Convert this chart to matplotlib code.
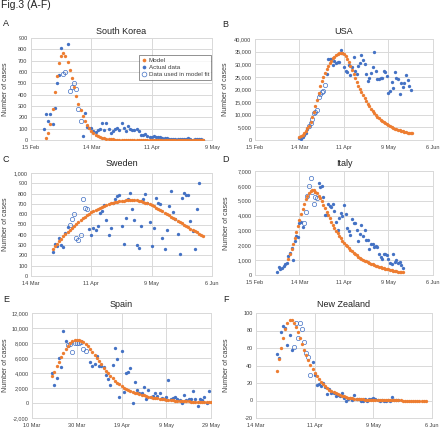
import numpy as np
import pandas as pd
import matplotlib
matplotlib.use("Agg")
import matplotlib.pyplot as plt
from matplotlib.lines import Line2D

plt.rcParams["font.family"] = ["Liberation Sans", "DejaVu Sans"]

nan = np.nan
ORANGE = "#ED7D31"
BLUE = "#4472C4"
GRID = "#D9D9D9"
TEXT = "#404040"

# ---- South Korea ----
sk_actual_start = "2020-02-21"
sk_actual = [100, 229, 169, 231, 144, 284, 505, 571, 813, nan, nan, 851,
             nan, nan, nan, nan, nan, nan, 35, 242, 114, 110, 107, 76, 74, 84,
             93, 152, 87, 147, 98, 64, 76, 100, 104, 91, 146, 105, 78, 125,
             101, 89, 86, 94, 81, 47, 47, 53, 39, 27, 30, 32, 25, 27, 27, 22,
             22, 18, 8, 13, 9, 11, 8, 6, 10, 10, 10, 14, 9, 4, 9, 6, 13, 8, 3]
sk_fit_start = "2020-03-01"
sk_fit = [586, 599, nan, 435, 467, 505, 448, 272, 165]
sk_model_start = "2020-02-22"
sk_model = [18, 62, 143, 270, 425, 567, 680, 745, 766, 745, 692, 618, 543,
            465, 386, 320, 261, 210, 168, 133, 104, 81, 62, 47, 36, 27, 20,
            15, 11, 8, 6, 5, 3, 3, 2, 1, 1, 1,
            0, 0, 0, 0, 0, 0, 0, 0, 0, 0, 0, 0, 0, 0, 0, 0, 0, 0,
            0, 0, 0, 0, 0, 0, 0, 0, 0, 0, 0, 0, 0, 0, 0, 0, 0, 0]

# ---- USA ----
us_actual_start = "2020-03-14"
us_actual = [700, 450, 1000, 1800, 2900, 4500,
             nan, nan, nan, nan, nan, nan, nan, nan, nan, nan, nan,
             26200, 32000, 32000, 32200, 29900, 31300, 30500, 31000, 30800,
             35700, 34400, 29100, 27200, 27000, 29600, 25600, 28800, 32800,
             27500, 26000, 29500, 30500, 33700, 31800, 30200, 26200, 23500,
             24500, 26500, 29000, 34800, 27300, 24000, 24300, 24400, 24700,
             27400, 27000, 25200, 18800, 19400, 23000, 20500, 26800, 24700,
             24000, 18300, 22500, 21000, 22700, 25800, 23600, 21200, 20000]
us_fit_start = "2020-03-20"
us_fit = [5400, 6600, 8500, 10600, 11200, 11900, 17200, 18100, 19200, 19400, 21800]
us_model_start = "2020-03-14"
us_model = [1000, 1500, 2100, 2900, 3700, 4600, 5700, 7000, 9000, 11200, 13500,
            16000, 18800, 21200, 23300, 25000, 26600, 28000, 29300, 30400,
            31400, 32300, 33000, 33600, 34100, 34400, 34500, 34300, 33900,
            33300, 32200, 30800, 29300, 27700, 26000, 24400, 22800, 21300,
            20300, 19000, 17700, 16500, 15400, 14300, 13300, 12400, 11500,
            10700, 10000, 9300, 8700, 8100, 7600, 7100, 6600, 6200, 5800, 5400,
            5100, 4800, 4500, 4200, 4000, 3800, 3600, 3400, 3200, 3100, 2900,
            2800, 2700, 2600]

# ---- Sweden ----
se_actual_start = "2020-03-24"
se_actual = [235, 314, 290, 370, 300, 280, 420, 480,
             nan, nan, nan, nan, nan, nan, nan, nan, nan,
             460, 400, 469, 443, 485, 612, 631, 692, 540, 395, 469, 712, 744,
             773, 790, 482, 307, 566, 751, 806, 647, 540, 304, 275, 485, 751,
             799, 709, 524, 288, 466, 760, 709, 696, 372, 265, 443, 676, 825,
             621, 557, 411, 217, 760, 806, 783, 783, 530, 435, 265, 650, 900]
se_fit_start = "2020-04-01"
se_fit = [495, 557, 604, 367, 352, 399, 744, 664, 652]
se_model_start = "2020-03-24"
se_model = [265, 290, 315, 340, 363, 386, 408, 430, 450, 470, 490, 508, 526,
            543, 559, 575, 590, 604, 617, 629, 641, 652, 662, 672, 681, 689,
            697, 704, 710, 716, 721, 725, 729, 732, 735, 737, 738, 738, 737,
            734, 730, 725, 719, 712, 704, 695, 685, 675, 664, 652, 640, 627,
            614, 601, 588, 575, 562, 549, 536, 523, 510, 497, 484, 471, 459,
            447, 435, 423, 411, 399, 388]

# ---- Italy ----
it_actual_start = "2020-02-29"
it_actual = [230, 560, 380, 470, 590, 770, 780, 1250, 1490, 1800, 980, 2310,
             2650, 2550, 3500, 3590, 3230,
             nan, nan, nan, nan, nan, nan, nan, nan, nan,
             6203, 5909, 5974, 5217, 4050, 4053, 4782, 4668, 4585, 4805, 4316,
             3599, 3039, 3836, 4204, 3951, 4694, 4092, 3153, 2972, 2667, 3786,
             3493, 3491, 3047, 2256, 2729, 3370, 2646, 3021, 2357, 2324, 1739,
             2091, 2086, 1872, 1965, 1900, 1389, 1221, 1075, 1444, 1401, 1327,
             1083, 802, 744, 1402, 888, 992, 789, 875, 675, 451]
it_fit_start = "2020-03-17"
it_fit = [3530, 4210, 5320, 5990, 6560, 5560, 4790, 5250, 5210]
it_model_start = "2020-03-07"
it_model = [1100, 1400, 1750, 2100, 2500, 2900, 3300, 3700, 4100, 4450, 4800,
            5100, 5350, 5550, 5670, 5720, 5690, 5610, 5490, 5330, 5150, 4950,
            4730, 4500, 4270, 4040, 3810, 3590, 3370, 3170, 2980, 2800, 2630,
            2470, 2320, 2180, 2040, 1920, 1800, 1690, 1590, 1490, 1400, 1320,
            1240, 1160, 1090, 1030, 970, 910, 850, 800, 750, 710, 670, 630,
            590, 560, 520, 490, 460, 430, 410, 380, 340, 315, 290, 270, 250,
            230, 215, 200, 185]

# ---- Spain ----
es_actual_start = "2020-03-19"
es_actual = [4030, 2390, 3370, 6050, 4840, 9630, 8290,
             nan, nan, nan, nan, nan, nan, nan, nan, nan, nan,
             5430, 4980, 5200, 6270, 4930, 4930, 4750, 3730, 3190, 2390, 5100,
             7300, 5870, 820, 6950, 1490, 3950, 4080, 4620, 0, 2830, 1720,
             1300, 1360, 2100, 550, 1700, 820, 1000, 1270, 1000, 1400, 680,
             500, 800, 3060, 500, 690, 820, 500, 400, 0, 1040, 400, 600, 500,
             1660, 500, -350, 510, 400, 800, 0, 1580]
es_fit_start = "2020-03-26"
es_fit = [7750, 7840, 6860, 7970, 8060, 7970, 8100, 7210, 7000]
es_model_start = "2020-03-19"
es_model = [3600, 4200, 4900, 5500, 6100, 6700, 7200, 7650, 8000, 8250, 8380,
            8420, 8400, 8300, 8120, 7870, 7560, 7200, 6820, 6420, 6000, 5580,
            5150, 4730, 4330, 3960, 3610, 3290, 2990, 2720, 2470, 2240, 2050,
            1900, 1760, 1630, 1500, 1390, 1280, 1180, 1090, 1010, 930, 860,
            790, 730, 670, 620, 570, 530, 490, 450, 420, 390, 360, 330, 305,
            285, 260, 240, 225, 210, 195, 180, 165, 155, 145, 135, 125, 115,
            108, 100]

# ---- New Zealand ----
nz_actual_start = "2020-03-24"
nz_actual = [53, 49, 78, 85, 83, 63, 75, 58,
             nan, nan, nan, nan, nan, nan, nan, nan, nan,
             44, 29, 18, 19, 17, 20, 15, 8, 13, 9, 9, 5, 6, 5, 9, 3, -1, 2, 3,
             1, 6, 2, 2, 0, -1, 2, 0, 2, 2, 3, 2, 1, 0, 1, 0, 0, 1, 0, 4, 1, 1, 1]
nz_fit_start = "2020-04-01"
nz_fit = [61, 89, 71, 89, 82, 67, 54, 50, 29]
nz_model_start = "2020-03-24"
nz_model = [34, 47, 60, 72, 82, 89, 92, 92, 89, 84, 78, 72, 65, 58, 52, 46, 41,
            36, 32, 28, 24.5, 21.5, 19, 16.5, 14.5, 12.5, 11, 9.5, 8.2, 7.1,
            6.1, 5.3, 4.6, 3.9, 3.4, 2.9, 2.5, 2.2, 1.9, 1.6, 1.4, 1.2, 1.0,
            0.9, 0.7, 0.6, 0.5, 0.4, 0.4, 0.3, 0.3, 0.2, 0.2, 0.2,
            0.1, 0.1, 0.1, 0.1, 0.1, 0.1,
            0, 0, 0, 0, 0, 0, 0, 0, 0, 0, 0, 0]

# axis ticks
ticks_feb = ["2020-02-15", "2020-03-14", "2020-04-11", "2020-05-09"]
ticks_feb_jun = ["2020-02-15", "2020-03-14", "2020-04-11", "2020-05-09", "2020-06-06"]
ticks_mar_jun = ["2020-03-14", "2020-04-11", "2020-05-09", "2020-06-06"]
ticks_spain = ["2020-03-10", "2020-03-30", "2020-04-19", "2020-05-09", "2020-05-29"]

W, H = 440, 430
fig = plt.figure(figsize=(W / 100, H / 100), dpi=100)


def px_rect(left, top, right, bottom):
    return [left / W, 1 - bottom / H, (right - left) / W, (bottom - top) / H]


def days(start, values):
    return pd.date_range(start, periods=len(values), freq="D")


def panel(rect, letter, letter_xy, title, title_xy, series, xticks, yticks, ylab_x):
    ax = fig.add_axes(px_rect(*rect))
    (a_start, actual), (f_start, fit), (m_start, model) = series
    ha, = ax.plot(days(a_start, actual), actual, "o", ms=2.4, mew=0, color=BLUE,
                  zorder=3, label="Actual data")
    hf, = ax.plot(days(f_start, fit), fit, "o", ms=3.1, mfc="none", mec=BLUE,
                  mew=0.5, zorder=4, label="Data used in model fit")
    hm, = ax.plot(days(m_start, model), model, "o", ms=2.4, mew=0, color=ORANGE,
                  zorder=5, label="Model")

    xt = pd.to_datetime(xticks)
    ax.set_xticks(xt)
    ax.set_xticklabels([f"{d.day} {d.strftime('%b')}" for d in xt])
    ax.set_xlim(xt[0], xt[-1])
    ax.set_yticks(yticks)
    ax.set_yticklabels([f"{v:,}" for v in yticks])
    ax.set_ylim(yticks[0], yticks[-1])
    ax.grid(True, color=GRID, lw=0.7)
    ax.set_axisbelow(True)
    for s in ax.spines.values():
        s.set_color(GRID)
        s.set_linewidth(0.7)
    ax.tick_params(length=0, labelsize=4, colors=TEXT)
    ax.tick_params(axis="x", pad=3.5)
    ax.tick_params(axis="y", pad=2.5)
    ax.set_ylabel("Number of cases", fontsize=5, color=TEXT)
    ax.yaxis.set_label_coords(ylab_x, 0.5)

    fig.text(title_xy[0] / W, 1 - title_xy[1] / H, title, ha="center", va="center",
             fontsize=6.5, color="#222222")
    fig.text(letter_xy[0] / W, 1 - letter_xy[1] / H, letter, ha="center", va="center",
             fontsize=6.5, color="#222222")
    return ax, [hm, ha, hf]


ax_a, handles = panel((31, 38, 212, 140), "A", (6, 24), "South Korea", (121.5, 31.5),
                      [(sk_actual_start, sk_actual), (sk_fit_start, sk_fit),
                       (sk_model_start, sk_model)],
                      ticks_feb, list(range(0, 901, 100)), -0.12)
panel((255, 39, 433, 140), "B", (225.5, 24.5), "USA", (344, 31.5),
      [(us_actual_start, us_actual), (us_fit_start, us_fit), (us_model_start, us_model)],
      ticks_feb_jun, list(range(0, 40001, 5000)), -0.146)
panel((31, 173, 212, 276), "C", (6, 160), "Sweden", (121.5, 163.5),
      [(se_actual_start, se_actual), (se_fit_start, se_fit), (se_model_start, se_model)],
      ticks_mar_jun, list(range(0, 1001, 100)), -0.12)
panel((255, 171, 433, 275), "D", (225.5, 160), "Italy", (344, 163.5),
      [(it_actual_start, it_actual), (it_fit_start, it_fit), (it_model_start, it_model)],
      ticks_feb_jun, list(range(0, 7001, 1000)), -0.14)
panel((32, 313, 211, 418), "E", (6, 299), "Spain", (121.5, 304.5),
      [(es_actual_start, es_actual), (es_fit_start, es_fit), (es_model_start, es_model)],
      ticks_spain, list(range(-2000, 12001, 2000)), -0.127)
panel((256, 313, 432, 418), "F", (225.5, 299), "New Zealand", (344, 304.5),
      [(nz_actual_start, nz_actual), (nz_fit_start, nz_fit), (nz_model_start, nz_model)],
      ticks_mar_jun, list(range(-20, 101, 20)), -0.148)

leg = ax_a.legend(handles=handles, loc="upper right", bbox_to_anchor=(0.997, 0.83),
                  borderaxespad=0, fontsize=4.5, frameon=True, fancybox=False,
                  edgecolor="#404040", handlelength=0.8, handletextpad=0.4,
                  labelspacing=0.3, borderpad=0.35, markerscale=1.1)
leg.get_frame().set_linewidth(0.5)
for t in leg.get_texts():
    t.set_color(TEXT)

fig.text(1 / W, 1 - 8.5 / H, "Fig.3 (A-F)", ha="left", va="baseline", fontsize=7.5,
         color="#222222")

fig.savefig("out.png", dpi=100)
